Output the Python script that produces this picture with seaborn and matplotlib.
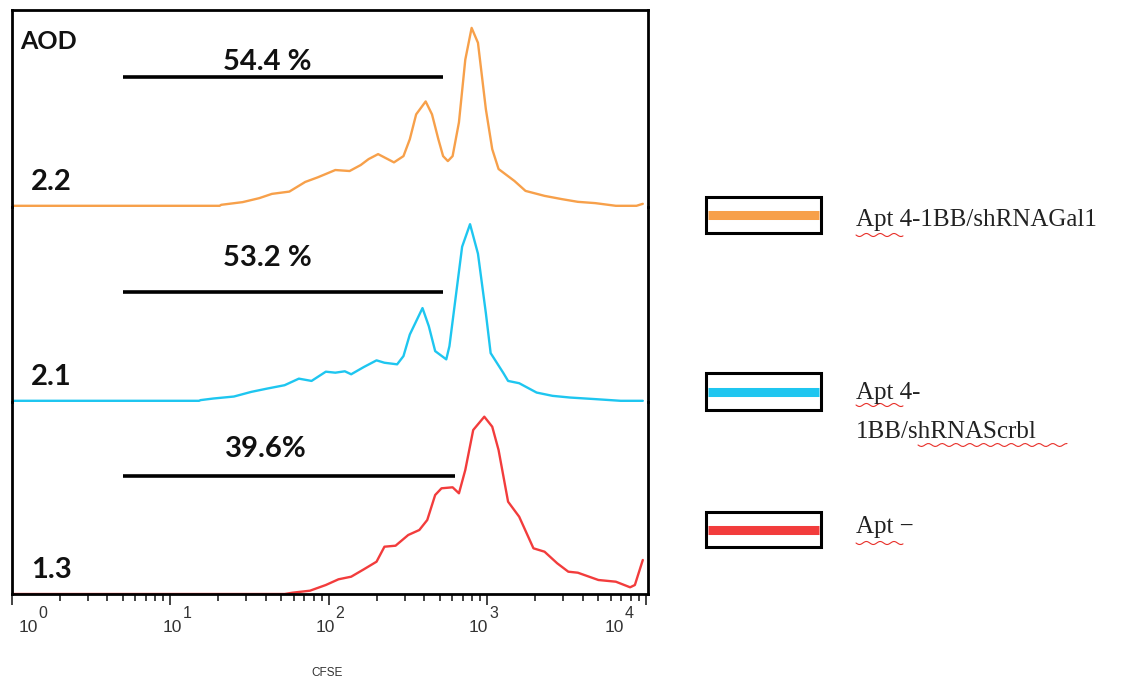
import matplotlib
matplotlib.use("Agg")
import matplotlib.pyplot as plt
import seaborn as sns
import numpy as np
import pandas as pd
from matplotlib.lines import Line2D
from matplotlib.patches import Rectangle
from matplotlib.ticker import LogLocator, NullFormatter

sns.set_style("white")
plt.rcParams['font.family'] = ['Liberation Sans', 'DejaVu Sans']

# ---- data (log10 CFSE, event counts) ----
orange_log = [0.0, 1.31, 1.32, 1.455, 1.56, 1.64, 1.75, 1.85, 1.93, 2.04, 2.13, 2.20, 2.25, 2.31,
              2.41, 2.47, 2.51, 2.55, 2.61, 2.65, 2.69, 2.72, 2.75, 2.78, 2.82, 2.86, 2.90,
              2.94, 2.99, 3.03, 3.07, 3.17, 3.24, 3.36, 3.47, 3.57, 3.68, 3.81, 3.94, 3.98]
orange_cnt = [0, 0, 1, 3.7, 7.7, 12, 14.3, 24, 28.7, 36, 35, 41, 47, 52,
              43.7, 50, 67, 92, 105, 92, 67, 50, 45, 50, 84, 147, 179,
              164, 97, 57, 37, 25, 15, 10, 6.7, 4, 2.7, 0, 0, 2]

blue_log = [0.0, 1.18, 1.19, 1.27, 1.40, 1.51, 1.61, 1.72, 1.81, 1.89, 1.98, 2.04, 2.10, 2.14,
            2.22, 2.30, 2.35, 2.43, 2.47, 2.51, 2.59, 2.63, 2.67, 2.74, 2.76, 2.80, 2.84,
            2.89, 2.94, 2.99, 3.02, 3.10, 3.13, 3.20, 3.31, 3.41, 3.52, 3.68, 3.84, 3.98]
blue_cnt = [0, 0, 0.7, 2.3, 4.3, 9, 12.3, 15.7, 22.3, 20, 29.3, 28.3, 29.7, 26.7,
            34, 40.7, 38.3, 36.7, 45, 66.7, 93.3, 75, 50, 41.7, 55, 105, 155,
            177.7, 148, 88, 48, 28, 20, 17.7, 8.3, 5, 3.3, 1.7, 0, 0]

red_log = [0.0, 1.72, 1.77, 1.88, 1.98, 2.06, 2.14, 2.22, 2.30, 2.35, 2.42, 2.50, 2.57, 2.62,
           2.67, 2.71, 2.78, 2.82, 2.86, 2.91, 2.98, 3.03, 3.07, 3.13, 3.20, 3.29, 3.36,
           3.44, 3.51, 3.57, 3.70, 3.81, 3.90, 3.93, 3.96, 3.98]
red_cnt = [0, 0, 1.3, 3.3, 9, 14.7, 17.3, 24.7, 32.3, 47.3, 48.3, 59, 64, 74,
           99, 105.7, 106.7, 100.7, 124, 164, 177.3, 167.3, 144, 92.3, 77.3, 45.7, 42.3,
           30.7, 22.3, 21.3, 14, 12.3, 6.7, 9, 24, 34]

aod_values = ["2.2", "2.1", "1.3"]
gate_pct = ["54.4 %", "53.2 %", "39.6%"]
gate_ranges = [(5, 525), (5, 525), (5, 620)]
legend_labels = ["Apt 4-1BB/shRNAGal1", "Apt 4-\n1BB/shRNAScrbl", "Apt \u2212"]
colors = ["#F7A04A", "#1EC6F0", "#F23C3C"]

W, H = 1135, 686
fig = plt.figure(figsize=(W / 100, H / 100), dpi=100)

def fx(px):
    return px / W

def fy(py):
    return 1 - py / H

left, right = 12, 648
tops = [10, 207, 402]
bottoms = [207, 402, 594]
panel_max = [197, 195, 192]
panel_min = [-1.2, -1.2, 0]
gate_y = [0.66, 0.564, 0.615]
pct_y = [0.736, 0.738, 0.755]
pct_x = [41, 41, 40]

series = [(orange_log, orange_cnt), (blue_log, blue_cnt), (red_log, red_cnt)]
axes = []
for i, (lg, cnt) in enumerate(series):
    ax = fig.add_axes([fx(left), fy(bottoms[i]), fx(right) - fx(left), fy(tops[i]) - fy(bottoms[i])])
    df = pd.DataFrame({"cfse": 10 ** np.array(lg), "count": cnt})
    sns.lineplot(data=df, x="cfse", y="count", ax=ax, color=colors[i], lw=1.7,
                 estimator=None, sort=False)
    ax.set_xscale("log")
    ax.set_xlim(1, 10300)
    ax.set_ylim(panel_min[i], panel_max[i])
    ax.set_xlabel("")
    ax.set_ylabel("")
    ax.set_yticks([])
    for s in ax.spines.values():
        s.set_color("black")
        s.set_linewidth(2)
        s.set_zorder(3)
    ax.spines["top"].set_visible(i == 0)
    ax.spines["bottom"].set_visible(i == 2)
    ax.patch.set_alpha(0)

    tr = ax.get_xaxis_transform()
    g0, g1 = gate_ranges[i]
    ax.plot([g0, g1], [gate_y[i], gate_y[i]], color="black", lw=2.6, transform=tr,
            solid_capstyle="butt")
    ax.text(pct_x[i], pct_y[i], gate_pct[i], transform=tr, ha="center", va="center",
            fontsize=21, fontweight="bold", family="Lato", color="#111111")
    ax.text(0.03, 0.127, aod_values[i], transform=ax.transAxes, ha="left", va="center",
            fontsize=21, fontweight="bold", family="Lato", color="#111111")
    if i == 0:
        ax.text(0.013, 0.84, "AOD", transform=ax.transAxes, ha="left", va="center",
                fontsize=18, fontweight="bold", family="Lato", color="#111111")
    if i < 2:
        ax.tick_params(axis="x", which="both", bottom=False, labelbottom=False)
    axes.append(ax)

ax = axes[2]
ax.xaxis.set_major_locator(LogLocator(base=10, numticks=10))
ax.xaxis.set_minor_locator(LogLocator(base=10, subs=np.arange(2, 10), numticks=20))
ax.xaxis.set_major_formatter(NullFormatter())
ax.xaxis.set_minor_formatter(NullFormatter())
ax.tick_params(axis="x", which="major", bottom=True, length=8, width=1.2, direction="out",
               color="#222222")
ax.tick_params(axis="x", which="minor", bottom=True, length=5, width=1.2, direction="out",
               color="#222222")

# tick labels drawn as "10" plus a large exponent, like the original cytometer export
label_shift = [16, 2, -4, -9, -32]
majors = [t for t in ax.get_xticks() if 1 <= t <= 10300]
for k, t in enumerate(majors):
    dx = label_shift[k]
    ax.annotate("10", xy=(t, 0), xycoords=ax.get_xaxis_transform(), xytext=(dx, -33),
                textcoords="offset pixels", ha="center", va="center", fontsize=12.5,
                color="#333333", annotation_clip=False)
    ax.annotate(str(int(round(np.log10(t)))), xy=(t, 0), xycoords=ax.get_xaxis_transform(),
                xytext=(dx + 15, -20), textcoords="offset pixels", ha="center", va="center",
                fontsize=11.5, color="#333333", annotation_clip=False)

fig.text(fx(327), fy(673), "CFSE", ha="center", va="center", fontsize=8.5, color="#333333")

# ---- legend boxes on the right ----
box_tops = [197, 373, 512]
box_bots = [233, 410, 547]
text_y = [220, 393, 527]
for i in range(3):
    x0, x1 = fx(706), fx(821)
    y0, y1 = fy(box_bots[i]), fy(box_tops[i])
    fig.patches.append(Rectangle((x0, y0), x1 - x0, y1 - y0, transform=fig.transFigure,
                                 facecolor="white", edgecolor="black", lw=2.2))
    ym = (y0 + y1) / 2
    fig.lines.append(Line2D([x0 + 0.002, x1 - 0.002], [ym, ym], transform=fig.transFigure,
                            color=colors[i], lw=6.5, solid_capstyle="butt"))
    for j, line in enumerate(legend_labels[i].split("\n")):
        fig.text(fx(856), fy(text_y[i] + 39 * j), line, ha="left", va="center",
                 fontsize=18, family="Liberation Serif", color="#222222")

# red spell-check squiggles
def squiggle(px0, px1, py):
    xs = np.linspace(px0, px1, 80)
    ys = py + 1.5 * np.sin((xs - px0) / 2.2)
    fig.lines.append(Line2D(fx(xs), fy(ys), transform=fig.transFigure, color="#E8302A", lw=0.8))

squiggle(856, 903, 235)
squiggle(856, 903, 405)
squiggle(918, 1067, 445)
squiggle(856, 903, 543)

fig.savefig("out.png", dpi=100)
